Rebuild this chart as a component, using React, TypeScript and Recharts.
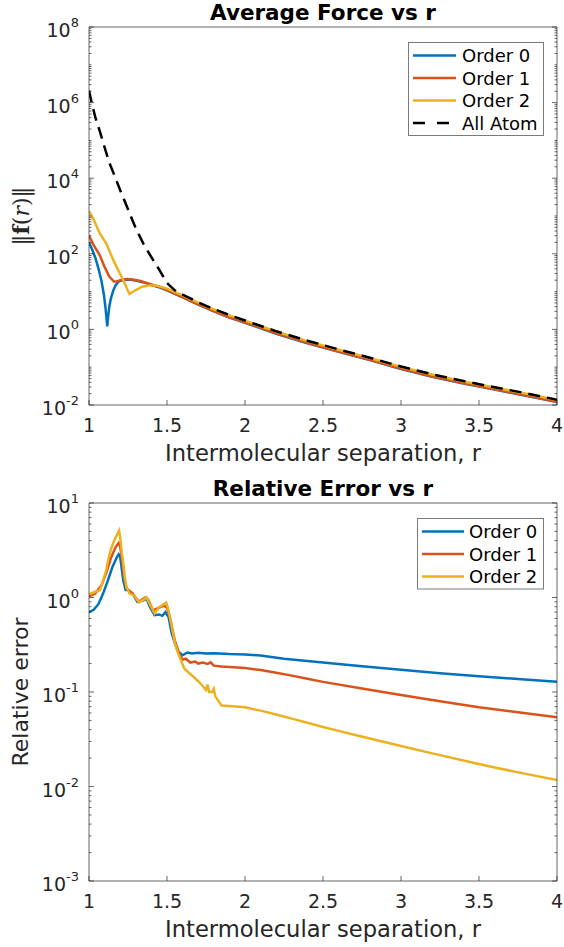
import React from "react";
import { LineChart, Line, XAxis, YAxis, Legend } from "recharts";

const FONT = "'DejaVu Sans', sans-serif";
const AXIS = "#262626";
const BLUE = "#0072BD";
const RED = "#D95319";
const YELLOW = "#EDB120";

// x axis ticks shared by both panels
const rTicks = [1, 1.5, 2, 2.5, 3, 3.5, 4];
const forceMajorTicks = [1e-2, 1, 1e2, 1e4, 1e6, 1e8];
const errorMajorTicks = [1e-3, 1e-2, 1e-1, 1, 10];

// ---- Average force ----
const order0ForceR = [1.0, 1.02, 1.04, 1.06, 1.08, 1.095, 1.105, 1.112, 1.117, 1.122, 1.13, 1.14, 1.155, 1.17, 1.19, 1.22, 1.26, 1.3, 1.35, 1.4, 1.45, 1.5, 1.6, 1.7, 1.8, 1.9, 2.0, 2.2, 2.4, 2.6, 2.8, 3.0, 3.2, 3.4, 3.6, 3.8, 4.0];
const order0Force = [200, 130, 80, 42, 19, 8.5, 4.0, 2.0, 1.2, 2.0, 4.0, 6.5, 10.5, 14.5, 18.5, 20.5, 21, 19.5, 17.5, 15, 13, 10.8, 7.0, 4.5, 3.0, 2.05, 1.5, 0.77, 0.43, 0.255, 0.154, 0.09, 0.056, 0.037, 0.0255, 0.0176, 0.012];

const order1ForceR = [1.0, 1.03, 1.07, 1.1, 1.13, 1.16, 1.18, 1.2, 1.24, 1.28, 1.33, 1.39, 1.45, 1.5, 1.6, 1.7, 1.8, 1.9, 2.0, 2.2, 2.4, 2.6, 2.8, 3.0, 3.2, 3.4, 3.6, 3.8, 4.0];
const order1Force = [300, 170, 90, 45, 25, 18.5, 18.5, 20, 21.5, 21, 19, 16, 13.5, 11, 7.1, 4.6, 3.05, 2.1, 1.53, 0.79, 0.44, 0.26, 0.157, 0.092, 0.057, 0.038, 0.026, 0.018, 0.0122];

const order2ForceR = [1.0, 1.03, 1.07, 1.11, 1.156, 1.19, 1.22, 1.245, 1.26, 1.275, 1.3, 1.34, 1.38, 1.43, 1.5, 1.6, 1.7, 1.8, 1.9, 2.0, 2.2, 2.4, 2.6, 2.8, 3.0, 3.2, 3.4, 3.6, 3.8, 4.0];
const order2Force = [1350, 800, 340, 190, 68, 35, 20, 11.5, 8.7, 9.5, 11, 13.5, 14.5, 14.5, 12, 7.9, 5.1, 3.4, 2.35, 1.7, 0.88, 0.49, 0.29, 0.175, 0.102, 0.064, 0.042, 0.029, 0.02, 0.0135];

const allAtomR = [1.0, 1.017, 1.04, 1.07, 1.1, 1.13, 1.17, 1.2, 1.25, 1.3, 1.35, 1.39, 1.45, 1.5, 1.55, 1.6, 1.7, 1.8, 1.9, 2.0, 2.2, 2.4, 2.6, 2.8, 3.0, 3.2, 3.4, 3.6, 3.8, 4.0];
const allAtomForce = [2.1e6, 1e6, 4.2e5, 1.7e5, 6.5e4, 2.6e4, 1e4, 4800, 1500, 470, 180, 95, 38, 17, 10.8, 8.3, 5.2, 3.45, 2.4, 1.72, 0.89, 0.5, 0.295, 0.178, 0.104, 0.065, 0.043, 0.0295, 0.0205, 0.0138];

// ---- Relative error ----
const order0ErrR = [1.0, 1.03, 1.06, 1.09, 1.12, 1.15, 1.18, 1.19, 1.2, 1.21, 1.22, 1.235, 1.25, 1.28, 1.31, 1.34, 1.37, 1.39, 1.42, 1.45, 1.47, 1.49, 1.51, 1.53, 1.55, 1.57, 1.6, 1.63, 1.66, 1.7, 1.75, 1.8, 1.9, 2.0, 2.1, 2.25, 2.5, 2.75, 3.0, 3.25, 3.5, 3.75, 4.0];
const order0Err = [0.7, 0.74, 0.85, 1.1, 1.5, 2.1, 2.7, 2.86, 2.7, 2.0, 1.5, 1.2, 1.2, 1.1, 0.9, 0.92, 0.97, 0.8, 0.65, 0.66, 0.64, 0.7, 0.62, 0.42, 0.33, 0.27, 0.245, 0.262, 0.255, 0.26, 0.255, 0.257, 0.252, 0.25, 0.243, 0.225, 0.205, 0.187, 0.172, 0.158, 0.147, 0.137, 0.128];

const order1ErrR = [1.0, 1.04, 1.08, 1.11, 1.14, 1.17, 1.19, 1.2, 1.21, 1.225, 1.24, 1.28, 1.32, 1.36, 1.38, 1.41, 1.45, 1.48, 1.5, 1.52, 1.55, 1.58, 1.6, 1.62, 1.65, 1.68, 1.7, 1.73, 1.76, 1.78, 1.8, 1.85, 2.0, 2.1, 2.2, 2.3, 2.4, 2.5, 2.75, 3.0, 3.25, 3.5, 3.75, 4.0];
const order1Err = [1.03, 1.1, 1.35, 1.8, 2.6, 3.4, 3.78, 3.5, 2.6, 1.7, 1.25, 1.1, 0.9, 1.0, 0.95, 0.73, 0.78, 0.82, 0.78, 0.6, 0.35, 0.25, 0.22, 0.225, 0.205, 0.21, 0.2, 0.205, 0.198, 0.206, 0.19, 0.186, 0.179, 0.171, 0.16, 0.149, 0.138, 0.128, 0.109, 0.093, 0.08, 0.069, 0.061, 0.054];

const order2ErrR = [1.0, 1.04, 1.07, 1.09, 1.11, 1.13, 1.145, 1.167, 1.185, 1.193, 1.2, 1.21, 1.22, 1.23, 1.24, 1.26, 1.29, 1.32, 1.35, 1.37, 1.39, 1.42, 1.45, 1.48, 1.495, 1.51, 1.53, 1.55, 1.57, 1.59, 1.61, 1.64, 1.67, 1.7, 1.73, 1.75, 1.76, 1.77, 1.79, 1.8, 1.81, 1.83, 1.85, 1.92, 2.0, 2.1, 2.2, 2.3, 2.4, 2.5, 2.6, 2.7, 2.8, 2.9, 3.0, 3.2, 3.4, 3.6, 3.8, 4.0];
const order2Err = [1.08, 1.15, 1.19, 1.5, 1.94, 2.8, 3.4, 4.2, 4.8, 5.1, 4.3, 3.0, 2.3, 1.6, 1.29, 1.1, 1.05, 0.89, 0.95, 1.0, 0.85, 0.68, 0.79, 0.85, 0.88, 0.73, 0.5, 0.33, 0.26, 0.215, 0.178, 0.16, 0.145, 0.13, 0.115, 0.105, 0.12, 0.1, 0.1, 0.108, 0.09, 0.08, 0.072, 0.0708, 0.0688, 0.0635, 0.0578, 0.0523, 0.0472, 0.0427, 0.0388, 0.0353, 0.0322, 0.0294, 0.0268, 0.0224, 0.0188, 0.0159, 0.0136, 0.0117];

const zip = (r: number[], v: number[]) => r.map((x, i) => ({ r: x, v: v[i] }));

// every 1..9 x 10^k between the decade bounds
function logTicks(lo: number, hi: number) {
  const out: number[] = [];
  for (let d = lo; d <= hi; d++) {
    for (let k = 1; k <= 9; k++) {
      if (d === hi && k > 1) break;
      out.push(Number((k * Math.pow(10, d)).toPrecision(6)));
    }
  }
  return out;
}

const isMajor = (v: number, majors: number[]) => majors.some((m) => Math.abs(m - v) / m < 1e-6);

function LogYTick(props: any) {
  const { x, y, payload, side, majors } = props;
  const v = payload.value;
  const major = isMajor(v, majors);
  const dir = side === "left" ? 1 : -1;
  const len = major ? 5 : 2.5;
  return (
    <g>
      <line x1={x} x2={x + dir * len} y1={y} y2={y} stroke={AXIS} strokeWidth={0.7} />
      {major && side === "left" && (
        <text x={x - 10} y={y + 10} textAnchor="end" fontFamily={FONT} fontSize={19} fill={AXIS}>
          10
          <tspan dy={-10} fontSize={13}>
            {Math.round(Math.log10(v))}
          </tspan>
        </text>
      )}
    </g>
  );
}

function RTick(props: any) {
  const { x, y, payload, side } = props;
  const dir = side === "bottom" ? -1 : 1;
  return (
    <g>
      <line x1={x} x2={x} y1={y} y2={y + dir * 5} stroke={AXIS} strokeWidth={0.7} />
      {side === "bottom" && (
        <text x={x} y={y + 27} textAnchor="middle" fontFamily={FONT} fontSize={19} fill={AXIS}>
          {payload.value}
        </text>
      )}
    </g>
  );
}

function TitleLabel(props: any, text: string) {
  const vb = props.viewBox || {};
  return (
    <text x={vb.x + vb.width / 2} y={vb.y + vb.height - 7} textAnchor="middle" fontFamily={FONT} fontWeight="bold" fontSize={21.5} fill="#000">
      {text}
    </text>
  );
}

function XLabel(props: any) {
  const vb = props.viewBox || {};
  return (
    <text x={vb.x + vb.width / 2} y={vb.y + 56} textAnchor="middle" fontFamily={FONT} fontSize={22.6} fill={AXIS}>
      Intermolecular separation, r
    </text>
  );
}

function YLabel(props: any, kind: "force" | "error") {
  const vb = props.viewBox || {};
  const cx = 28;
  const cy = vb.y + vb.height / 2;
  if (kind === "error") {
    return (
      <text x={cx} y={cy} transform={`rotate(-90 ${cx} ${cy})`} textAnchor="middle" fontFamily={FONT} fontSize={22} fill={AXIS}>
        Relative error
      </text>
    );
  }
  return (
    <text x={cx + 1} y={cy} transform={`rotate(-90 ${cx + 1} ${cy})`} textAnchor="middle" fontFamily="'DejaVu Serif', serif" fontSize={22} fill={AXIS}>
      ‖<tspan fontWeight="bold">f</tspan>(<tspan fontStyle="italic">r</tspan>)‖
    </text>
  );
}

type Item = { name: string; color: string; dashed?: boolean };

function BoxLegend({ items, w, lineEnd, textX }: { items: Item[]; w: number; lineEnd: number; textX: number }) {
  const rowH = 22.5;
  const h = items.length * rowH + 4;
  return (
    <svg width={w} height={h} style={{ display: "block" }}>
      <rect x={0.5} y={0.5} width={w - 1} height={h - 1} fill="#fff" stroke="#7a7a7a" strokeWidth={1} />
      {items.map((it, i) => {
        const cy = 13.5 + i * rowH;
        return (
          <g key={it.name}>
            <line x1={5} x2={lineEnd} y1={cy} y2={cy} stroke={it.color} strokeWidth={2.5} strokeDasharray={it.dashed ? "12 12" : undefined} />
            <text x={textX} y={cy + 6.5} fontFamily={FONT} fontSize={18} fill="#000">
              {it.name}
            </text>
          </g>
        );
      })}
    </svg>
  );
}

const forceItems: Item[] = [
  { name: "Order 0", color: BLUE },
  { name: "Order 1", color: RED },
  { name: "Order 2", color: YELLOW },
  { name: "All Atom", color: "#000", dashed: true },
];
const errorItems: Item[] = forceItems.slice(0, 3);

function Panel(props: {
  height: number;
  topH: number;
  bottomH: number;
  yDomain: [number, number];
  decades: [number, number];
  majors: number[];
  title: string;
  yKind: "force" | "error";
  legend: React.ReactNode;
  legendPos: { left: number; top: number };
  children: React.ReactNode;
}) {
  const yTicks = logTicks(props.decades[0], props.decades[1]);
  const common = { type: "number" as const, domain: [1, 4], ticks: rTicks, interval: 0 as const, allowDataOverflow: true, tickSize: 0, tickMargin: 0, tickLine: false, axisLine: { stroke: AXIS, strokeWidth: 0.7 } };
  const ycommon = { type: "number" as const, scale: "log" as const, domain: props.yDomain, ticks: yTicks, interval: 0 as const, allowDataOverflow: true, tickSize: 0, tickMargin: 0, tickLine: false, axisLine: { stroke: AXIS, strokeWidth: 0.7 } };
  return (
    <LineChart width={564} height={props.height} margin={{ top: 0, right: 0, bottom: 0, left: 0 }}>
      <XAxis xAxisId="b" dataKey="r" {...common} height={props.bottomH} tick={(p: any) => <RTick {...p} side="bottom" />} label={(p: any) => XLabel(p)} />
      <XAxis xAxisId="t" orientation="top" {...common} height={props.topH} tick={(p: any) => <RTick {...p} side="top" />} label={(p: any) => TitleLabel(p, props.title)} />
      <YAxis yAxisId="l" {...ycommon} width={89} tick={(p: any) => <LogYTick {...p} side="left" majors={props.majors} />} label={(p: any) => YLabel(p, props.yKind)} />
      <YAxis yAxisId="r" orientation="right" {...ycommon} width={7} tick={(p: any) => <LogYTick {...p} side="right" majors={props.majors} />} />
      {props.children}
      <Legend layout="vertical" align="center" verticalAlign="middle" content={() => props.legend} wrapperStyle={{ left: props.legendPos.left, top: props.legendPos.top, width: "auto", height: "auto" }} />
    </LineChart>
  );
}

const lineProps = { xAxisId: "b", yAxisId: "l", dataKey: "v", type: "linear" as const, dot: false, isAnimationActive: false, strokeWidth: 2.5 };

export default function App() {
  return (
    <div style={{ position: "absolute", left: 0, top: 0, width: 564, height: 947, background: "#fff" }}>
      <Panel
        height={470}
        topH={27}
        bottomH={65}
        yDomain={[1e-2, 1e8]}
        decades={[-2, 8]}
        majors={forceMajorTicks}
        title="Average Force vs r"
        yKind="force"
        legendPos={{ left: 408, top: 42 }}
        legend={<BoxLegend items={forceItems} w={136} lineEnd={48} textX={54} />}
      >
        <Line {...lineProps} name="Order 0" data={zip(order0ForceR, order0Force)} stroke={BLUE} />
        <Line {...lineProps} name="Order 1" data={zip(order1ForceR, order1Force)} stroke={RED} />
        <Line {...lineProps} name="Order 2" data={zip(order2ForceR, order2Force)} stroke={YELLOW} />
        <Line {...lineProps} name="All Atom" data={zip(allAtomR, allAtomForce)} stroke="#000" strokeDasharray="12 7" />
      </Panel>
      <Panel
        height={477}
        topH={33}
        bottomH={66}
        yDomain={[1e-3, 10]}
        decades={[-3, 1]}
        majors={errorMajorTicks}
        title="Relative Error vs r"
        yKind="error"
        legendPos={{ left: 417, top: 48 }}
        legend={<BoxLegend items={errorItems} w={127} lineEnd={47} textX={52} />}
      >
        <Line {...lineProps} name="Order 0" data={zip(order0ErrR, order0Err)} stroke={BLUE} />
        <Line {...lineProps} name="Order 1" data={zip(order1ErrR, order1Err)} stroke={RED} />
        <Line {...lineProps} name="Order 2" data={zip(order2ErrR, order2Err)} stroke={YELLOW} />
      </Panel>
    </div>
  );
}
